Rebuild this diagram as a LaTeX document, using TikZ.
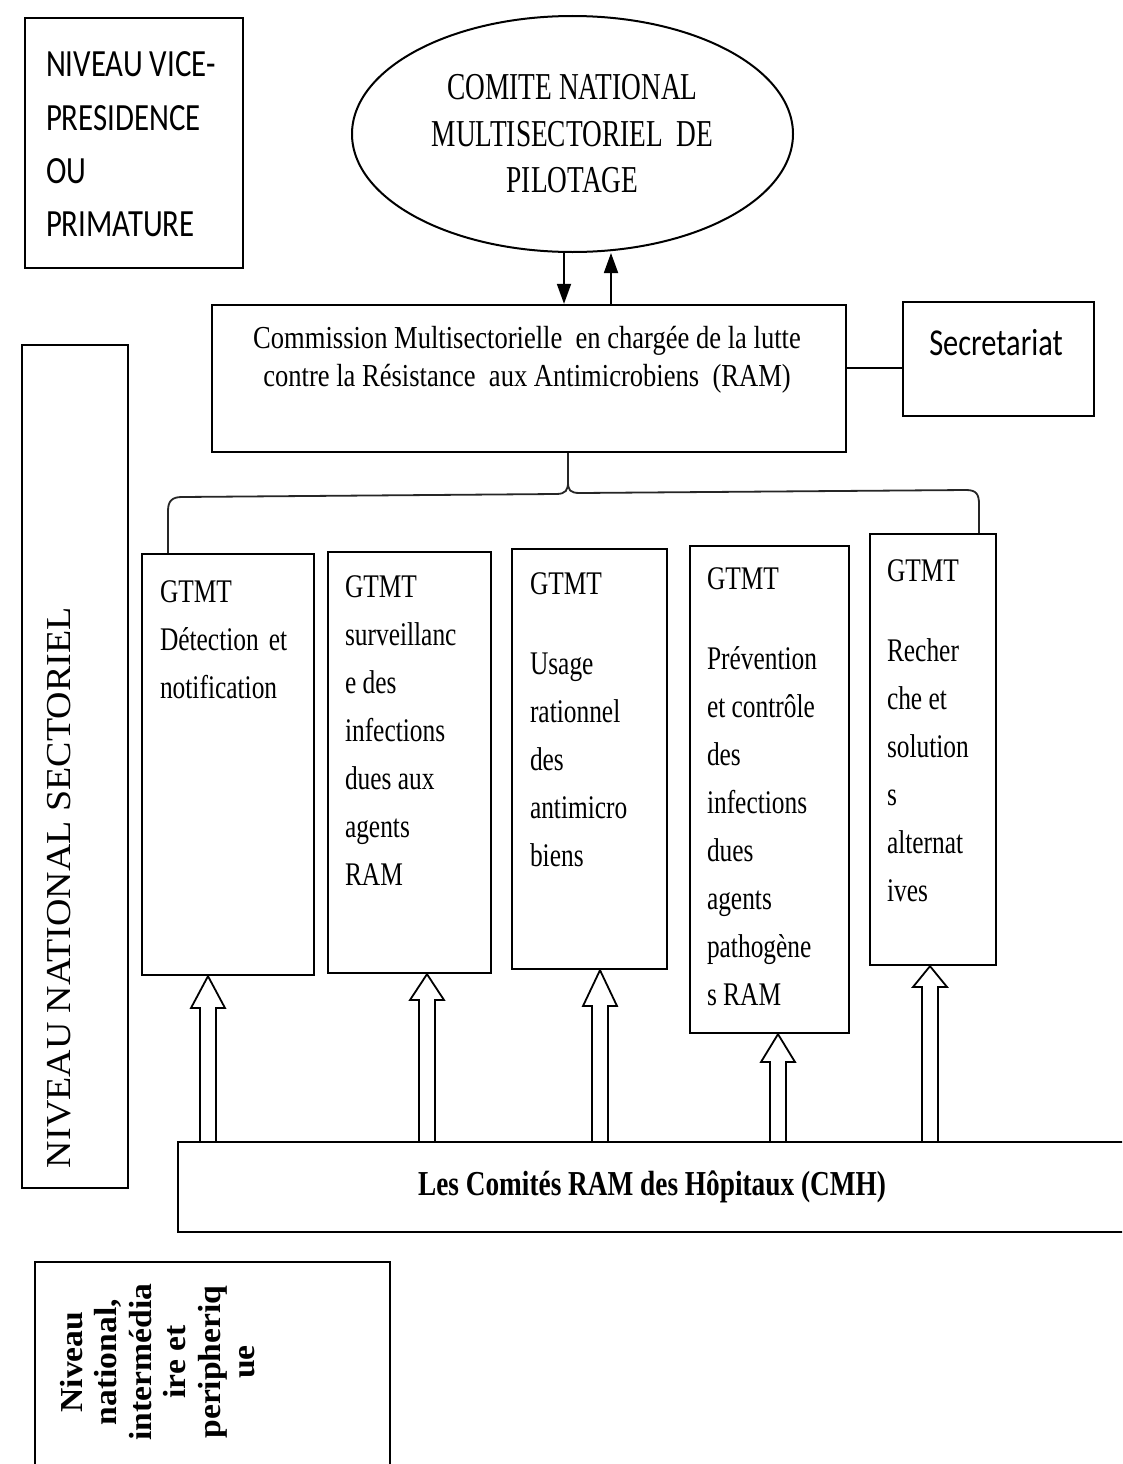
\documentclass[tikz,border=0pt]{standalone}
\usepackage{fontspec}
\usetikzlibrary{shapes.geometric,arrows.meta}
\newfontfamily\ellfont[FakeStretch=0.72]{Liberation Serif}
\newfontfamily\comfont[FakeStretch=0.83]{Liberation Serif}
\newfontfamily\gfont[FakeStretch=0.77]{Liberation Serif}
\newfontfamily\cmhfont[FakeStretch=0.78]{Liberation Serif}
\newfontfamily\vertfont[FakeStretch=1.085]{Liberation Serif}
\newfontfamily\nbfont[FakeStretch=1.05]{Liberation Serif}
\newfontfamily\calfont[FakeStretch=0.8]{Carlito}
\begin{document}
\begin{tikzpicture}[x=1pt,y=-1pt,
  box/.style={draw, line width=2.3pt, rectangle, inner sep=0pt},
  txt/.style={inner sep=0pt, outer sep=0pt},
  gt/.style={txt, anchor=north west, align=left, font=\gfont\fontsize{33}{48}\selectfont},
  tri/.style={line width=1.8pt, -{Triangle[length=20pt,width=14pt]}},
  blk/.style={line width=1.8pt, line join=miter},
  bracestyle/.style={line width=1.8pt, black!85}]
\path[use as bounding box, clip] (0,0) rectangle (1122,1464);
\fill[white] (0,0) rectangle (1122,1464);

% top-left level box
\node[box, minimum width=218pt, minimum height=250pt] (tl) at (134,143) {};
\node[txt, anchor=north west, align=left, font=\calfont\fontsize{38.5}{53.3}\selectfont] (tlt) at (46,52) {NIVEAU VICE-\\PRESIDENCE\\OU\\PRIMATURE};

% ellipse
\node[draw, ellipse, line width=2pt, minimum width=441pt, minimum height=236pt, inner sep=0pt, align=center, font=\ellfont\fontsize{38}{46.5}\selectfont] (ell) at (572.5,134) {COMITE NATIONAL\\MULTISECTORIEL\ \ DE\\PILOTAGE};

% commission
\node[box, minimum width=634pt, minimum height=147pt] (comm) at (529,378.5) {};
\node[txt, align=center, font=\comfont\fontsize{32}{38}\selectfont] (commt) at (527,360) {Commission Multisectorielle\ \ en chargée de la lutte\\contre la Résistance\ \ aux Antimicrobiens\ \ (RAM)};

% secretariat
\node[box, minimum width=191pt, minimum height=114pt] (sec) at (998.5,359) {};
\node[txt, anchor=base, font=\calfont\fontsize{38}{46}\selectfont] (sect) at (996,355) {Secretariat};
\draw[line width=2pt] (comm.east |- 0,368) -- (sec.west |- 0,368);

% arrows ellipse <-> commission
\draw[tri] (ell.south -| 564,0) -- (comm.north -| 564,0);
\draw[tri] (comm.north -| 611,0) -- (ell.south -| 611,0);

% vertical level box
\node[box, minimum width=106pt, minimum height=843pt] (nns) at (75,766.5) {};
\node[txt, rotate=90, anchor=base west, font=\vertfont\fontsize{35}{40}\selectfont] (nnst) at (70,1168) {NIVEAU NATIONAL SECTORIEL};

% GTMT boxes
\node[box, minimum width=172pt, minimum height=421pt] (g1) at (228,764.5) {};
\node[gt] (g1t) at (160,580.6) {GTMT\\Détection\hspace{10pt}et\\notification};
\node[box, minimum width=163pt, minimum height=421pt] (g2) at (409.5,762.5) {};
\node[gt] (g2t) at (345,575.6) {GTMT\\surveillanc\\e des\\infections\\dues aux\\agents\\RAM};
\node[box, minimum width=155pt, minimum height=420pt] (g3) at (589.5,759) {};
\node[gt] (g3t) at (530,572.6) {GTMT\\[32pt]Usage\\rationnel\\des\\antimicro\\biens};
\node[box, minimum width=159pt, minimum height=487pt] (g4) at (769.5,789.5) {};
\node[gt] (g4t) at (707,567.6) {GTMT\\[32pt]Prévention\\et contrôle\\des\\infections\\dues\\agents\\pathogène\\s RAM};
\node[box, minimum width=126pt, minimum height=431pt] (g5) at (933,749.5) {};
\node[gt] (g5t) at (887,559.6) {GTMT\\[32pt]Recher\\che et\\solution\\s\\alternat\\ives};

% brace from commission to GTMT row
\draw[bracestyle] (comm.south -| 568,0) -- (568,482) .. controls (568,490) and (566,494) .. (556,494) -- (182,497) .. controls (172,497) and (168,501) .. (168,511) -- (g1.north -| 168,0);
\draw[bracestyle] (568,482) .. controls (568,490) and (570,493) .. (580,493) -- (966,490) .. controls (976,490) and (979,494) .. (979,504) -- (g5.north -| 979,0);

% hospital committees
\node[box, minimum width=962pt, minimum height=90pt] (cmh) at (659,1187) {};
\node[txt, anchor=base, font=\cmhfont\bfseries\fontsize{35}{40}\selectfont] (cmht) at (652,1195) {Les Comités RAM des Hôpitaux (CMH)};

% hollow block arrows
\draw[blk] (cmh.north -| 200,0) -- (200,1008) -- (191,1008) -- (g1.south -| 208,0) -- (225,1008) -- (216,1008) -- (cmh.north -| 216,0);
\draw[blk] (cmh.north -| 419,0) -- (419,1000) -- (410,1000) -- (g2.south -| 427,0) -- (444,1000) -- (435,1000) -- (cmh.north -| 435,0);
\draw[blk] (cmh.north -| 592,0) -- (592,1006) -- (583,1006) -- (g3.south -| 600,0) -- (617,1006) -- (608,1006) -- (cmh.north -| 608,0);
\draw[blk] (cmh.north -| 770,0) -- (770,1062) -- (761,1062) -- (g4.south -| 778,0) -- (795,1062) -- (786,1062) -- (cmh.north -| 786,0);
\draw[blk] (cmh.north -| 922,0) -- (922,987) -- (913,987) -- (g5.south -| 930,0) -- (947,987) -- (938,987) -- (cmh.north -| 938,0);

% bottom-left level box
\node[box, minimum width=355pt, minimum height=228pt] (nb) at (212.5,1376) {};
\node[txt, rotate=90, align=center, font=\nbfont\bfseries\fontsize{32}{34.5}\selectfont] (nbt) at (157.5,1362) {Niveau\\national,\\intermédia\\ire et\\peripheriq\\ue};
\end{tikzpicture}
\end{document}
